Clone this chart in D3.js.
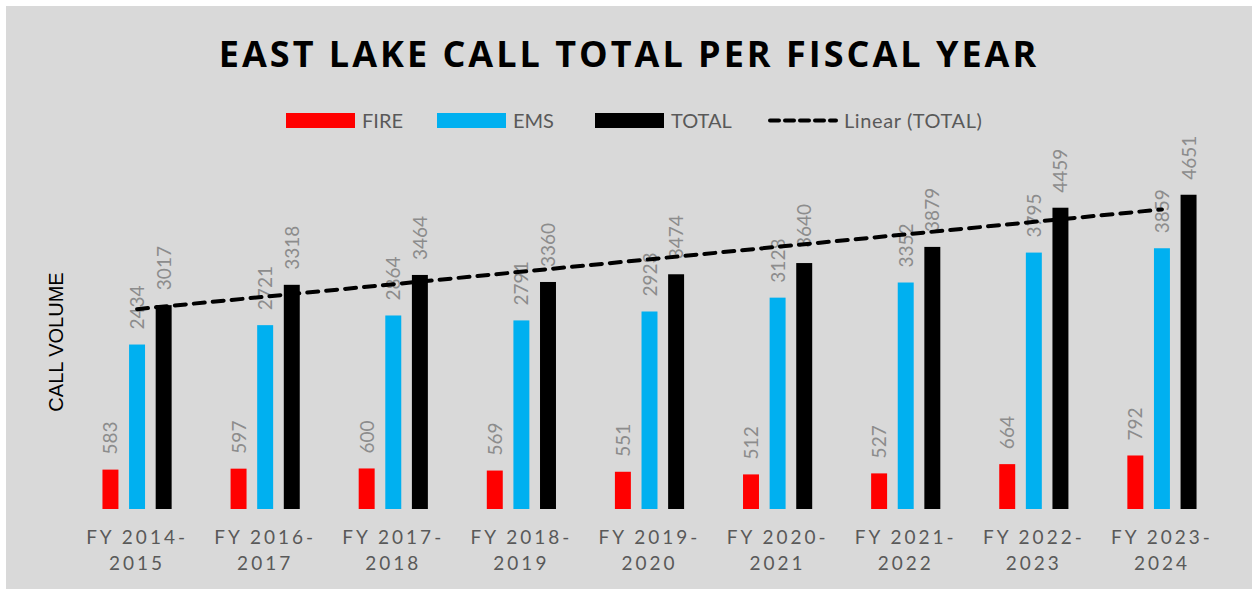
<!DOCTYPE html>
<html>
<head>
<meta charset="utf-8">
<script src="https://cdn.jsdelivr.net/npm/d3@7"></script>
<style>
  body { margin: 0; background: #fff; }
</style>
</head>
<body>
<div id="chart"></div>
<script>
// datos
const years = ["FY 2014-2015", "FY 2016-2017", "FY 2017-2018", "FY 2018-2019", "FY 2019-2020",
  "FY 2020-2021", "FY 2021-2022", "FY 2022-2023", "FY 2023-2024"];
const fire = [583, 597, 600, 569, 551, 512, 527, 664, 792];
const ems = [2434, 2721, 2864, 2791, 2923, 3128, 3352, 3795, 3859];
const total = [3017, 3318, 3464, 3360, 3474, 3640, 3879, 4459, 4651];
const seriesNames = ["FIRE", "EMS", "TOTAL"];
const seriesColors = ["#ff0000", "#00b0f0", "#000000"];

const width = 1252;
const height = 589;
const margin = { top: 160, right: 26, bottom: 80, left: 73 };
const innerWidth = width - margin.left - margin.right;
const innerHeight = height - margin.top - margin.bottom;

const font = "Lato, 'Open Sans', sans-serif";

const svg = d3.select("#chart")
  .append("svg")
  .attr("width", width)
  .attr("height", height);

svg.append("rect")
  .attr("x", 6).attr("y", 6)
  .attr("width", width - 6).attr("height", height - 6)
  .attr("fill", "#d9d9d9");

const rows = years.map((y, i) => ({ year: y, values: [fire[i], ems[i], total[i]] }));

const x0 = d3.scaleBand()
  .domain(years)
  .range([0, innerWidth])
  .paddingInner(0.46)
  .paddingOuter(0.23);

const x1 = d3.scaleBand()
  .domain(seriesNames)
  .range([0, x0.bandwidth()])
  .paddingInner(0.4);

const yScale = d3.scaleLinear()
  .domain([0, 5000])
  .range([innerHeight, innerHeight - 5000 / 14.8]);

const g = svg.append("g")
  .attr("transform", `translate(${margin.left},${margin.top})`);

const groups = g.selectAll(".grp")
  .data(rows)
  .enter()
  .append("g")
  .attr("transform", (d) => `translate(${x0(d.year)},0)`);

const cells = groups.selectAll("g")
  .data((d) => d.values.map((v, k) => ({ name: seriesNames[k], value: v, color: seriesColors[k] })))
  .enter()
  .append("g");

cells.append("rect")
  .attr("x", (d) => x1(d.name))
  .attr("y", (d) => yScale(d.value))
  .attr("width", x1.bandwidth())
  .attr("height", (d) => innerHeight - yScale(d.value))
  .attr("fill", (d) => d.color);

// etiquetas rotadas
cells.append("text")
  .attr("transform", (d) => `translate(${x1(d.name) + x1.bandwidth() / 2 + 7},${yScale(d.value) - 15}) rotate(-90)`)
  .attr("fill", "#8c8c8c")
  .style("font-family", font)
  .style("font-size", "19px")
  .text((d) => d.value);

// linea de tendencia (regresion lineal de TOTAL)
const n = total.length;
const meanX = (n + 1) / 2;
const meanY = d3.mean(total);
const slope = d3.sum(total, (v, i) => (i + 1 - meanX) * (v - meanY)) / d3.sum(total, (v, i) => (i + 1 - meanX) ** 2);
const trend = (i) => meanY + slope * (i + 1 - meanX);

g.append("line")
  .attr("x1", x0(years[0]) + x0.bandwidth() / 2)
  .attr("x2", x0(years[n - 1]) + x0.bandwidth() / 2)
  .attr("y1", yScale(trend(0)))
  .attr("y2", yScale(trend(n - 1)))
  .attr("stroke", "#000")
  .attr("stroke-width", 4)
  .attr("stroke-dasharray", "11 8")
  .attr("stroke-linecap", "round");

// etiquetas eje x
const xLabels = g.append("g")
  .attr("transform", `translate(0,${innerHeight})`)
  .selectAll("text")
  .data(years)
  .enter()
  .append("text")
  .attr("x", (d) => x0(d) + x0.bandwidth() / 2)
  .attr("text-anchor", "middle")
  .attr("fill", "#595959")
  .style("font-family", font)
  .style("font-size", "19px")
  .style("letter-spacing", "3px");

xLabels.append("tspan")
  .attr("x", (d) => x0(d) + x0.bandwidth() / 2)
  .attr("y", 35)
  .text((d) => d.split("-")[0] + "-");
xLabels.append("tspan")
  .attr("x", (d) => x0(d) + x0.bandwidth() / 2)
  .attr("y", 61)
  .text((d) => d.split("-")[1]);

// titulo
svg.append("text")
  .attr("x", 629)
  .attr("y", 67)
  .attr("text-anchor", "middle")
  .attr("fill", "#000")
  .style("font-family", "'Open Sans', sans-serif")
  .style("font-weight", "bold")
  .style("font-size", "36px")
  .style("letter-spacing", "3px")
  .text("EAST LAKE CALL TOTAL PER FISCAL YEAR");

// titulo eje y
svg.append("text")
  .attr("transform", "translate(63,342) rotate(-90)")
  .attr("text-anchor", "middle")
  .attr("fill", "#000")
  .style("font-family", "'Liberation Sans', sans-serif")
  .style("font-size", "20px")
  .text("CALL VOLUME");

// leyenda
const legendX = [286, 437, 595];
const legend = svg.append("g");
seriesNames.forEach((s, i) => {
  legend.append("rect")
    .attr("x", legendX[i]).attr("y", 113)
    .attr("width", 69).attr("height", 15)
    .attr("fill", seriesColors[i]);
  legend.append("text")
    .attr("x", legendX[i] + 76).attr("y", 128)
    .attr("fill", "#595959")
    .style("font-family", font)
    .style("font-size", "20px")
    .text(s);
});
legend.append("line")
  .attr("x1", 770).attr("x2", 836)
  .attr("y1", 120.5).attr("y2", 120.5)
  .attr("stroke", "#000")
  .attr("stroke-width", 4)
  .attr("stroke-dasharray", "9 6")
  .attr("stroke-linecap", "round");
legend.append("text")
  .attr("x", 844).attr("y", 128)
  .attr("fill", "#595959")
  .style("font-family", font)
  .style("font-size", "20px")
  .style("letter-spacing", "0.6px")
  .text("Linear (TOTAL)");
</script>
</body>
</html>
